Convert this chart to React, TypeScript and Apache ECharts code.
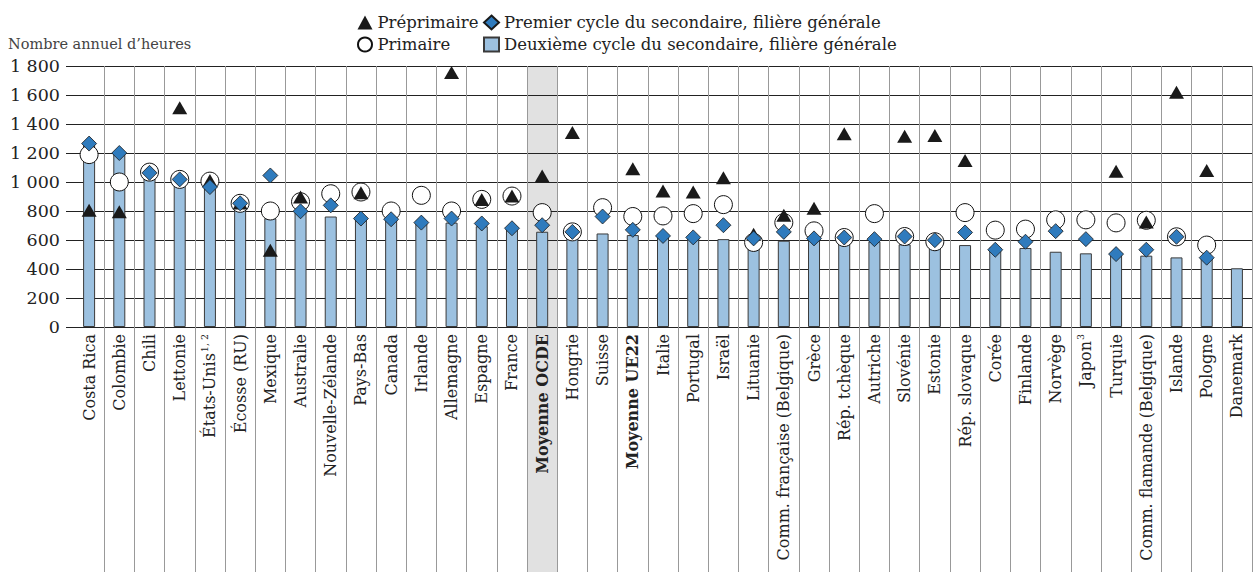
import React, { useEffect, useRef } from "react";
import * as echarts from "echarts";

const categories = [
  "Costa Rica", "Colombie", "Chili", "Lettonie", "États-Unis", "Écosse (RU)", "Mexique",
  "Australie", "Nouvelle-Zélande", "Pays-Bas", "Canada", "Irlande", "Allemagne", "Espagne",
  "France", "Moyenne OCDE", "Hongrie", "Suisse", "Moyenne UE22", "Italie", "Portugal",
  "Israël", "Lituanie", "Comm. française (Belgique)", "Grèce", "Rép. tchèque", "Autriche",
  "Slovénie", "Estonie", "Rép. slovaque", "Corée", "Finlande", "Norvège", "Japon", "Turquie",
  "Comm. flamande (Belgique)", "Islande", "Pologne", "Danemark",
];
const footnoteNames = ["États-Unis", "Japon"];
const footnoteMarks = ["1, 2", "3"];
const boldCategories = ["Moyenne OCDE", "Moyenne UE22"];
const highlighted = "Moyenne OCDE";

const upperSecondary = [
  1255, 1195, 1040, 995, 955, 820, 750, 790, 762, 745, 739, 716, 720, 695, 680, 657, 640, 645,
  634, 620, 612, 606, 585, 595, 600, 590, 590, 570, 570, 565, 549, 545, 519, 508, 496, 492, 480,
  475, 405,
];
const lowerSecondary = [
  1265, 1200, 1063, 1018, 965, 853, 1045, 798, 839, 748, 743, 720, 748, 714, 681, 702, 656, 762,
  670, 628, 618, 702, 611, 656, 611, 617, 606, 624, 599, 652, 533, 588, 661, 606, 503, 533, 622,
  478, null,
];
const primary = [
  1189, 1000, 1068, 1018, 1006, 853, 800, 864, 919, 931, 800, 908, 800, 880, 903, 789, 656, 823,
  762, 766, 782, 844, 583, 720, 663, 617, 782, 624, 588, 789, 668, 675, 739, 739, 718, 736, 622,
  565, null,
];
const preprimary = [
  805, 794, null, 1512, 1011, 855, 530, 896, null, 926, null, null, 1755, 880, 903, 1041, 1342,
  null, 1091, 938, 931, 1029, 640, 771, 819, 1333, null, 1315, 1320, 1148, null, null, null, null,
  1075, 725, 1619, 1079, null,
];

const yMin = 0;
const yMax = 1800;
const yInterval = 200;

const seriesNames = [
  "Préprimaire",
  "Primaire",
  "Premier cycle du secondaire, filière générale",
  "Deuxième cycle du secondaire, filière générale",
];

const FONT = "DejaVu Serif";
const TEXT = "#222";

function fmtThousands(v: number): string {
  if (v >= 1000) {
    const th = Math.floor(v / 1000);
    const rest = String(v % 1000).padStart(3, "0");
    return th + " " + rest;
  }
  return String(v);
}

export default function App() {
  const ref = useRef<HTMLDivElement>(null);
  useEffect(() => {
    document.body.style.margin = "0";
    if (!ref.current) return;
    const chart = echarts.init(ref.current, null, { renderer: "svg" });
    const legendCommon = {
      orient: "vertical",
      top: 9,
      itemWidth: 15,
      itemHeight: 14,
      itemGap: 5,
      selectedMode: false,
      textStyle: { fontFamily: FONT, fontSize: 16.5, color: TEXT },
    };
    const option: any = {
      animation: false,
      title: {
        text: "Nombre annuel d’heures",
        left: 3,
        top: 31,
        textStyle: { fontFamily: FONT, fontSize: 14.5, fontWeight: "normal", color: "#444" },
      },
      legend: [
        { ...legendCommon, data: [seriesNames[0], seriesNames[1]], left: 352 },
        {
          ...legendCommon,
          data: [seriesNames[2], { name: seriesNames[3], icon: "rect" }],
          left: 478,
        },
      ],
      grid: { left: 74, right: 3, top: 66, bottom: 245, containLabel: false, outerBoundsMode: "none" },
      xAxis: {
        type: "category",
        data: categories,
        boundaryGap: true,
        axisLine: { show: true, lineStyle: { color: "#222", width: 1 } },
        axisTick: {
          show: true,
          length: 245,
          interval: (i: number) => i !== 0,
          lineStyle: { color: "#999", width: 1 },
        },
        splitLine: {
          show: true,
          interval: (i: number) => i !== 0,
          lineStyle: { color: "#999", width: 1 },
        },
        axisLabel: {
          interval: 0,
          rotate: 90,
          margin: 7,
          formatter: (value: string) => {
            if (boldCategories.indexOf(value) >= 0) return "{b|" + value + "}";
            const k = footnoteNames.indexOf(value);
            if (k >= 0) return "{n|" + value + "}{sup|" + footnoteMarks[k] + "}";
            return "{n|" + value + "}";
          },
          rich: {
            n: { fontFamily: FONT, fontSize: 16, color: TEXT, lineHeight: 20 },
            b: { fontFamily: FONT, fontSize: 16, color: TEXT, fontWeight: "bold", lineHeight: 20 },
            sup: { fontFamily: FONT, fontSize: 9.5, color: TEXT, verticalAlign: "top", lineHeight: 20, padding: [0, 0, 0, 1] },
          },
        },
      },
      yAxis: {
        type: "value",
        min: yMin,
        max: yMax,
        interval: yInterval,
        axisLine: { show: false },
        axisTick: { show: true, length: 8, lineStyle: { color: "#222" } },
        splitLine: { show: true, lineStyle: { color: "#222", width: 1 } },
        axisLabel: {
          margin: 14,
          fontFamily: FONT,
          fontSize: 17.5,
          color: TEXT,
          formatter: (v: number) => fmtThousands(v),
        },
      },
      series: [
        {
          name: seriesNames[3],
          type: "bar",
          data: upperSecondary,
          barWidth: 12,
          z: 2,
          itemStyle: { color: "#9cc1e0", borderColor: "#3a3a3a", borderWidth: 1 },
        },
        {
          name: seriesNames[1],
          type: "scatter",
          data: primary,
          symbol: "circle",
          symbolSize: 18,
          z: 3,
          itemStyle: { color: "#ffffff", borderColor: "#111", borderWidth: 1, opacity: 1 },
        },
        {
          name: seriesNames[0],
          type: "scatter",
          data: preprimary,
          symbol: "triangle",
          symbolSize: [15, 13],
          z: 4,
          itemStyle: { color: "#1a1a1a", opacity: 1 },
        },
        {
          name: seriesNames[2],
          type: "scatter",
          data: lowerSecondary,
          symbol: "diamond",
          symbolSize: [15, 15],
          z: 5,
          itemStyle: { color: "#2f7bbd", borderColor: "#1a1a1a", borderWidth: 0.8, opacity: 1 },
        },
      ],
    };
    chart.setOption(option);

    const idx = categories.indexOf(highlighted);
    const cx = chart.convertToPixel({ xAxisIndex: 0 }, categories[idx]) as number;
    const cx2 = chart.convertToPixel({ xAxisIndex: 0 }, categories[idx + 1]) as number;
    const band = cx2 - cx;
    const yTop = chart.convertToPixel({ yAxisIndex: 0 }, yMax) as number;
    chart.setOption({
      graphic: [
        {
          type: "rect",
          z: -1,
          silent: true,
          shape: { x: cx - band / 2, y: yTop, width: band, height: chart.getHeight() - yTop },
          style: { fill: "#e1e1e1" },
        },
      ],
    });

    return () => chart.dispose();
  }, []);
  return <div ref={ref} style={{ width: 1255, height: 572 }} />;
}
